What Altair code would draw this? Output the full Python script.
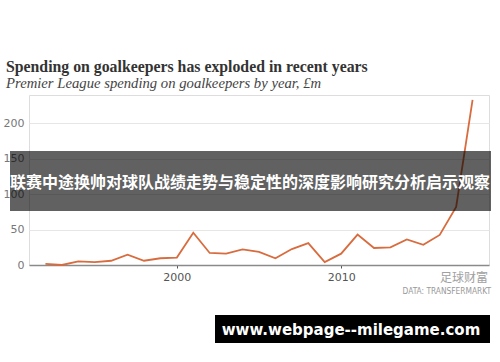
import altair as alt
import pandas as pd

years = list(range(1992, 2019))
spending = [1.5, 0, 5, 4, 6, 14.5, 6, 9.5, 10.5, 45.5, 17, 16, 22, 18.5, 9.5,
            22.5, 31, 4, 16, 43, 24, 25, 36, 28.5, 42.5, 82, 233]
x_ticks = [2000, 2010]
y_ticks = [0, 50, 100, 150, 200]

title_text = "Spending on goalkeepers has exploded in recent years"
subtitle_text = "Premier League spending on goalkeepers by year, £m"
overlay_text = "联赛中途换帅对球队战绩走势与稳定性的深度影响研究分析启示观察"
footer_text = "www.webpage--milegame.com"
brand_text = "足球财富"
source_text = "DATA: TRANSFERMARKT"

df = pd.DataFrame({"year": years, "spend": spending})
one = pd.DataFrame({"k": [0]})

W, H = 460, 170

line = alt.Chart(df).mark_line(color="#d86c3e", strokeWidth=1.8).encode(
    x=alt.X("year:Q", scale=alt.Scale(domain=[1991, 2019], nice=False, zero=False),
            axis=alt.Axis(values=x_ticks, format="d", title=None, grid=False,
                          domainColor="#8a8a8a", domainWidth=1.5, tickColor="#555",
                          tickSize=3, labelPadding=3, labelFontSize=11,
                          labelColor="#555", labelFont="DejaVu Sans")),
    y=alt.Y("spend:Q", scale=alt.Scale(domain=[0, 240], nice=False),
            axis=alt.Axis(values=y_ticks, title=None, domain=False, ticks=False,
                          gridColor="#e6e6e6", labelPadding=5, labelFontSize=11,
                          labelColor="#777", labelFont="DejaVu Sans")),
)

def txt(text, x, y, **kw):
    return alt.Chart(one).mark_text(text=text, **kw).encode(x=alt.value(x), y=alt.value(y))

title = txt(title_text, -23, -23, align="left", baseline="alphabetic",
            font="Liberation Serif", fontSize=15.8, fontWeight="bold", color="#333")
subtitle = txt(subtitle_text, -23, -7, align="left", baseline="alphabetic",
               font="Liberation Serif", fontSize=14.7, fontStyle="italic", color="#444")

band = alt.Chart(one).mark_rect(color="black", opacity=0.62).encode(
    x=alt.value(-19), x2=alt.value(462), y=alt.value(56), y2=alt.value(116))
band_text = txt(overlay_text, 221, 88, align="center", baseline="middle",
                font="Noto Sans CJK SC", fontSize=16, fontWeight="bold", color="white")

brand = txt(brand_text, 459, 183, align="right", baseline="middle",
            font="Noto Sans CJK SC", fontSize=12, color="#a0a0a0")
source = txt(source_text, 462, 197, align="right", baseline="middle",
             font="DejaVu Sans Condensed", fontSize=8.3, color="#999")

footer_box = alt.Chart(one).mark_rect(color="black").encode(
    x=alt.value(186), x2=alt.value(461), y=alt.value(220), y2=alt.value(248))
footer = txt(footer_text, 322, 235, align="center", baseline="middle",
             font="DejaVu Sans", fontSize=15, fontWeight="bold", color="white")

chart = alt.layer(line, title, subtitle, band, band_text, brand, source,
                  footer_box, footer).properties(
    width=W, height=H,
    autosize=alt.AutoSizeParams(type="none"),
    padding={"left": 29, "top": 95, "right": 11, "bottom": 97},
).configure_view(stroke=None).configure(background="white")

chart.save("out.html", embed_options={"renderer": "svg", "actions": False})
